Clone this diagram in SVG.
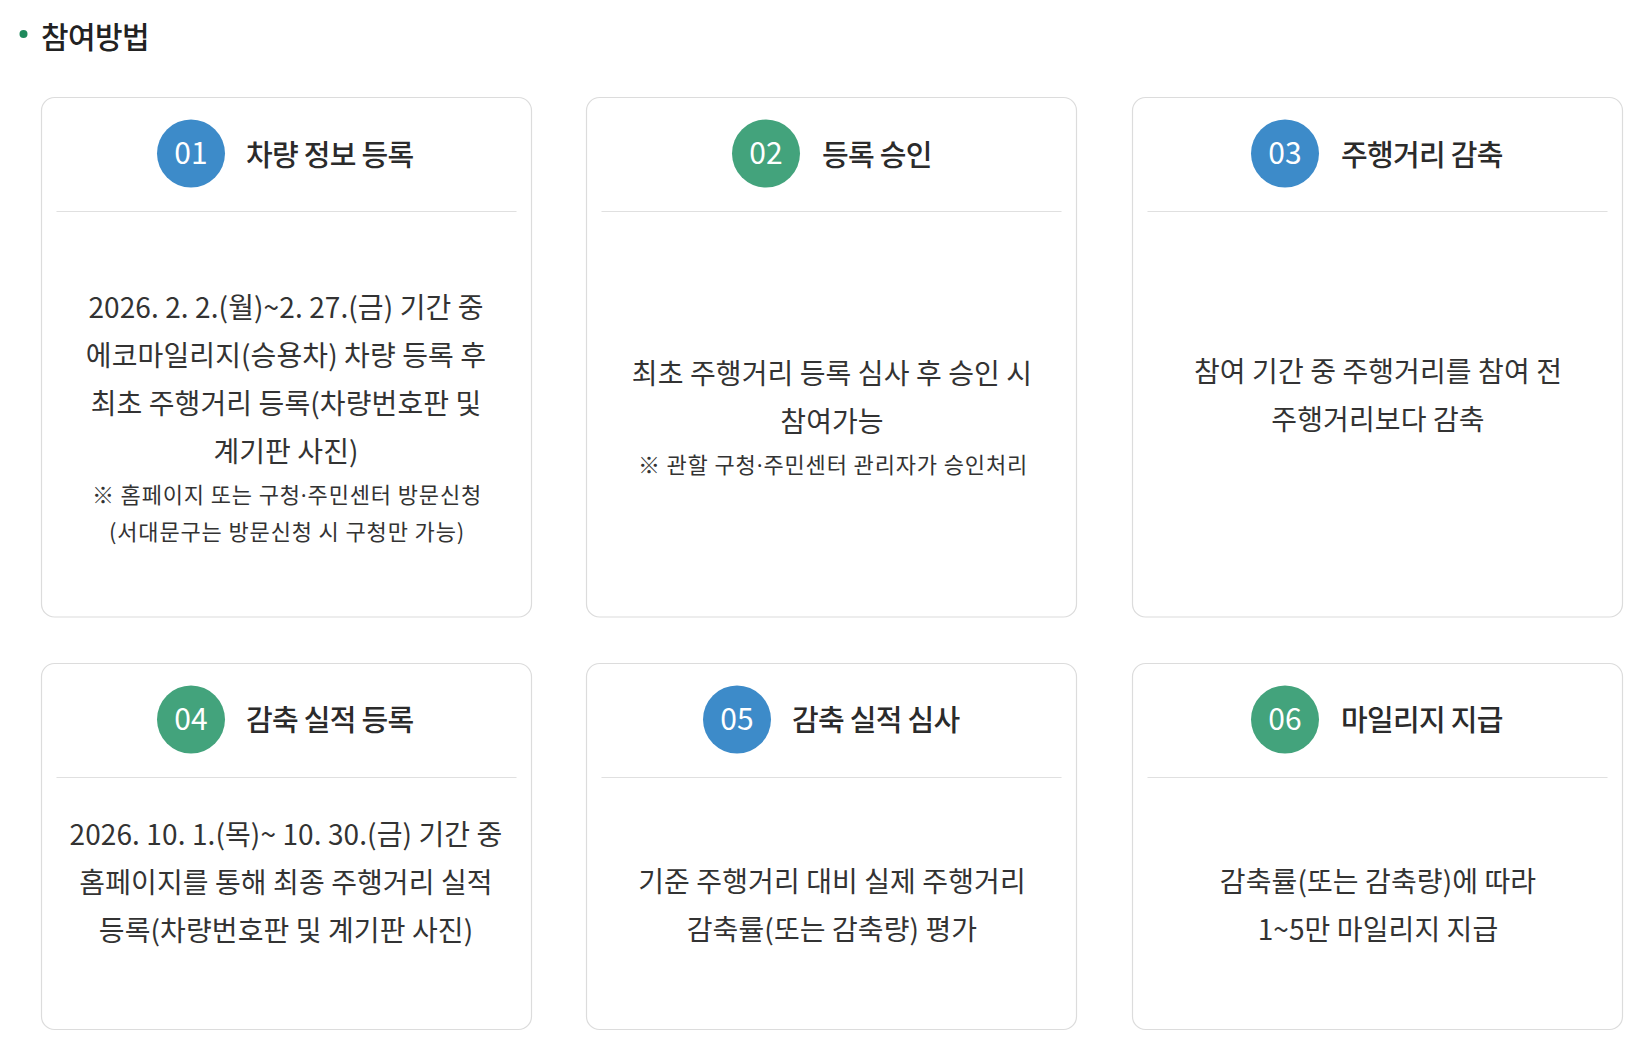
<svg xmlns="http://www.w3.org/2000/svg" width="1647" height="1059" viewBox="0 0 1647 1059">
<style>
text{font-family:"Noto Sans CJK KR","Noto Sans",sans-serif;fill:#333}
.card{fill:#fff;stroke:#dcdcdc;stroke-width:1.2}
.dv{stroke:#e0e0e0;stroke-width:1.2}
.blue{fill:#3d8bc9}
.green{fill:#43a37c}
.num{font-size:30px;fill:#fff;text-anchor:middle}
.ttl{font-size:29px;font-weight:500;letter-spacing:-0.7px;fill:#2b2b2b}
.bd{font-size:28px;letter-spacing:0.1px;text-anchor:middle}
.sm{font-size:22px;letter-spacing:0.85px;text-anchor:middle}
.dot{font-family:"Noto Sans","DejaVu Sans",sans-serif}
.h{font-size:30px;font-weight:500;letter-spacing:-0.6px;fill:#222}
</style>
<rect width="1647" height="1059" fill="#fff"/>
<g id="heading">
<circle cx="23.5" cy="34" r="4" fill="#1f8a5c"/>
<text class="h" x="41" y="48">참여방법</text>
</g>
<g id="step1">
<rect class="card" x="41.5" y="97.5" width="490" height="519.5" rx="13"/>
<circle class="blue" cx="191" cy="153.5" r="34"/>
<text class="num" x="191" y="164">01</text>
<text class="ttl" x="246" y="166">차량 정보 등록</text>
<line class="dv" x1="56.5" y1="211.5" x2="516.5" y2="211.5"/>
<text class="bd" x="286" y="318">2026. 2. 2.(월)~2. 27.(금) 기간 중</text>
<text class="bd" x="286" y="366">에코마일리지(승용차) 차량 등록 후</text>
<text class="bd" x="286" y="414">최초 주행거리 등록(차량번호판 및</text>
<text class="bd" x="286" y="462">계기판 사진)</text>
<text class="sm" x="287" y="503">※ 홈페이지 또는 구청<tspan class="dot">·</tspan>주민센터 방문신청</text>
<text class="sm" x="287" y="540">(서대문구는 방문신청 시 구청만 가능)</text>
</g>
<g id="step2">
<rect class="card" x="586.5" y="97.5" width="490" height="519.5" rx="13"/>
<circle class="green" cx="766" cy="153.5" r="34"/>
<text class="num" x="766" y="164">02</text>
<text class="ttl" x="822" y="166">등록 승인</text>
<line class="dv" x1="601.5" y1="211.5" x2="1061.5" y2="211.5"/>
<text class="bd" x="832" y="384">최초 주행거리 등록 심사 후 승인 시</text>
<text class="bd" x="832" y="432">참여가능</text>
<text class="sm" x="833" y="473">※ 관할 구청<tspan class="dot">·</tspan>주민센터 관리자가 승인처리</text>
</g>
<g id="step3">
<rect class="card" x="1132.5" y="97.5" width="490" height="519.5" rx="13"/>
<circle class="blue" cx="1285" cy="153.5" r="34"/>
<text class="num" x="1285" y="164">03</text>
<text class="ttl" x="1341" y="166">주행거리 감축</text>
<line class="dv" x1="1147.5" y1="211.5" x2="1607.5" y2="211.5"/>
<text class="bd" x="1378" y="382">참여 기간 중 주행거리를 참여 전</text>
<text class="bd" x="1378" y="430">주행거리보다 감축</text>
</g>
<g id="step4">
<rect class="card" x="41.5" y="663.5" width="490" height="366" rx="13"/>
<circle class="green" cx="191" cy="719.5" r="34"/>
<text class="num" x="191" y="730">04</text>
<text class="ttl" x="246" y="731">감축 실적 등록</text>
<line class="dv" x1="56.5" y1="777.5" x2="516.5" y2="777.5"/>
<text class="bd" x="286" y="845">2026. 10. 1.(목)~ 10. 30.(금) 기간 중</text>
<text class="bd" x="286" y="893">홈페이지를 통해 최종 주행거리 실적</text>
<text class="bd" x="286" y="941">등록(차량번호판 및 계기판 사진)</text>
</g>
<g id="step5">
<rect class="card" x="586.5" y="663.5" width="490" height="366" rx="13"/>
<circle class="blue" cx="737" cy="719.5" r="34"/>
<text class="num" x="737" y="730">05</text>
<text class="ttl" x="792" y="731">감축 실적 심사</text>
<line class="dv" x1="601.5" y1="777.5" x2="1061.5" y2="777.5"/>
<text class="bd" x="832" y="892">기준 주행거리 대비 실제 주행거리</text>
<text class="bd" x="832" y="940">감축률(또는 감축량) 평가</text>
</g>
<g id="step6">
<rect class="card" x="1132.5" y="663.5" width="490" height="366" rx="13"/>
<circle class="green" cx="1285" cy="719.5" r="34"/>
<text class="num" x="1285" y="730">06</text>
<text class="ttl" x="1341" y="731">마일리지 지급</text>
<line class="dv" x1="1147.5" y1="777.5" x2="1607.5" y2="777.5"/>
<text class="bd" x="1378" y="892">감축률(또는 감축량)에 따라</text>
<text class="bd" x="1378" y="940">1~5만 마일리지 지급</text>
</g>
<g id="connectors"/>
</svg>
